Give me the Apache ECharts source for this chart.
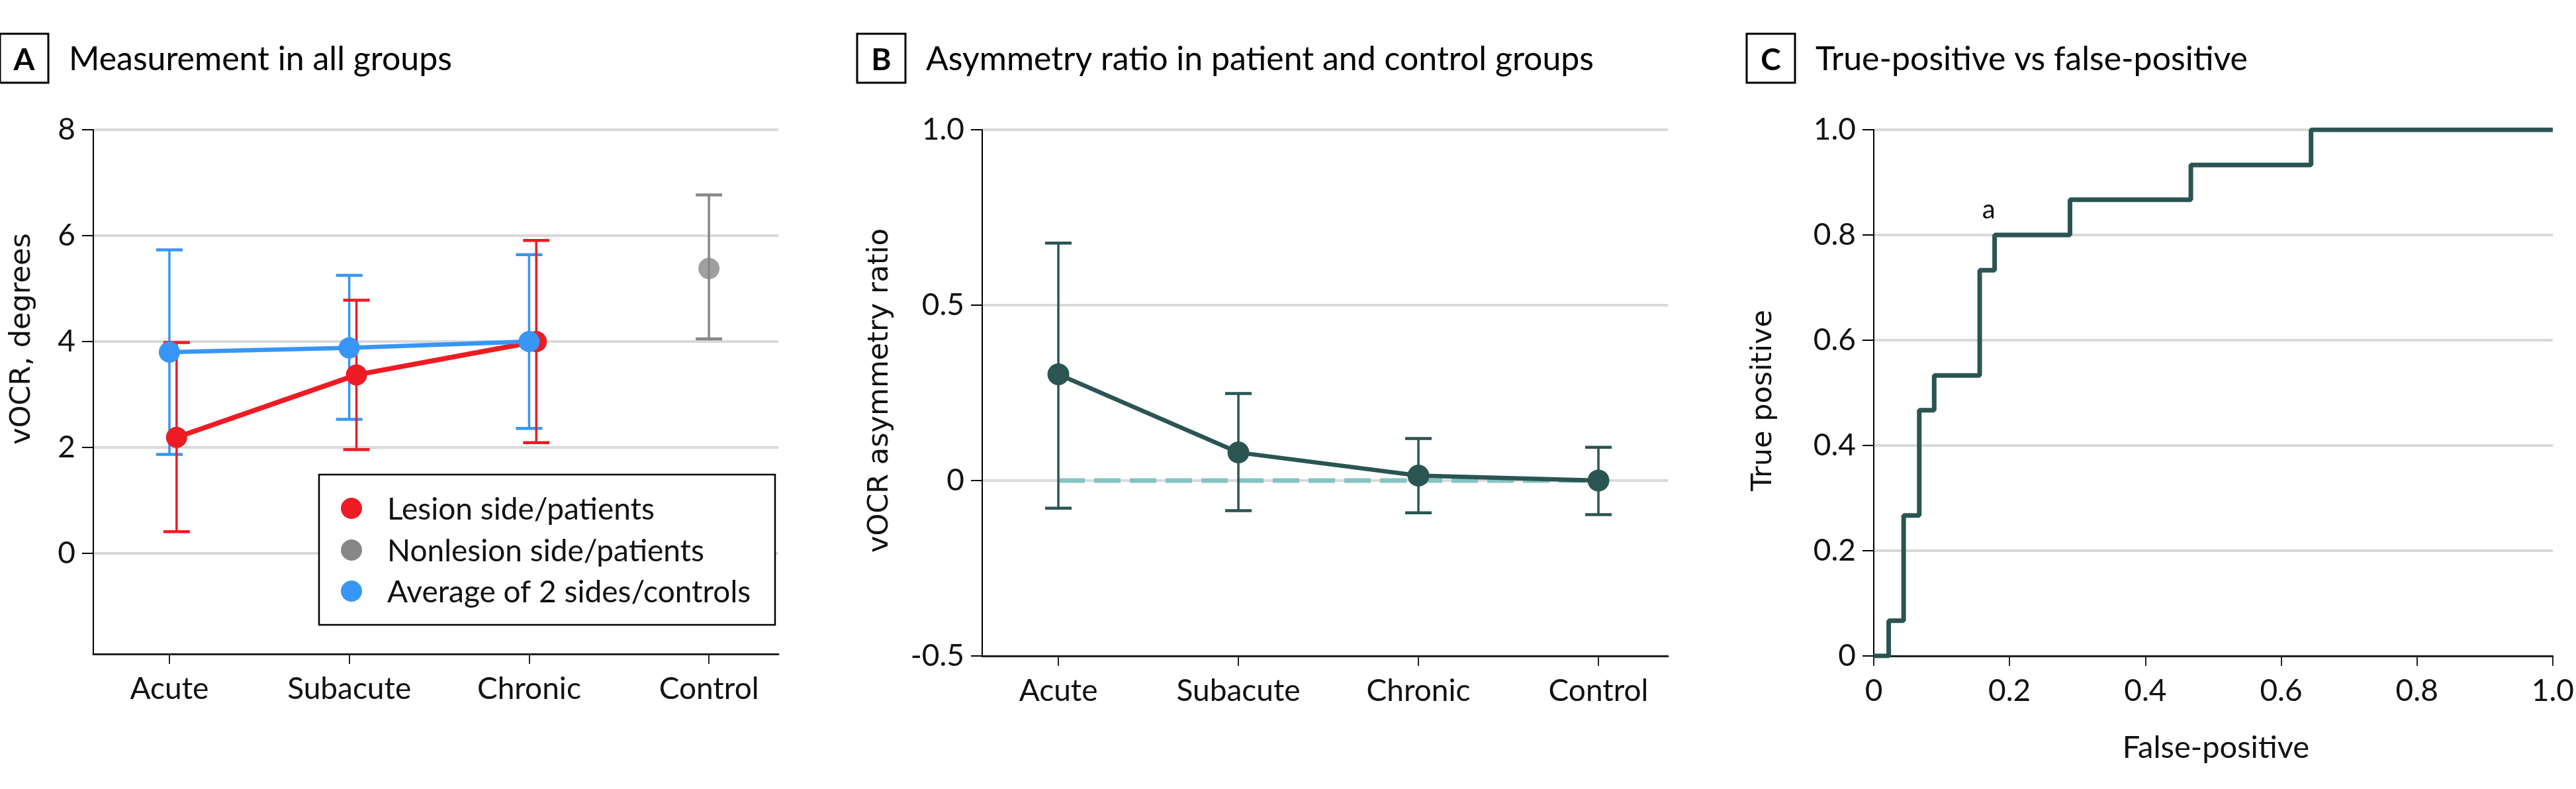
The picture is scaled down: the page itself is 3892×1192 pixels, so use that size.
<!DOCTYPE html>
<html><head><meta charset="utf-8">
<script src="https://cdn.jsdelivr.net/npm/echarts@6/dist/echarts.min.js"></script>
<style>html,body{margin:0;padding:0;background:#fff;}#c{width:3892px;height:1192px;}</style>
</head><body><div id="c"></div>
<script>
// ---------- data ----------
const categories = ['Acute', 'Subacute', 'Chronic', 'Control'];

// Panel A
const lesionGroups = ['Acute', 'Subacute', 'Chronic'];
const lesionMean = [2.19, 3.37, 4.00];
const lesionLow = [0.41, 1.96, 2.09];
const lesionHigh = [3.98, 4.78, 5.91];
const averageGroups = ['Acute', 'Subacute', 'Chronic'];
const averageMean = [3.80, 3.88, 4.00];
const averageLow = [1.87, 2.53, 2.36];
const averageHigh = [5.73, 5.25, 5.64];
const nonlesionGroups = ['Control'];
const nonlesionMean = [5.38];
const nonlesionLow = [4.05];
const nonlesionHigh = [6.77];
const yTicksA = [0, 2, 4, 6, 8];
const legendNames = ['Lesion side/patients', 'Nonlesion side/patients', 'Average of 2 sides/controls'];

// Panel B
const asymGroups = ['Acute', 'Subacute', 'Chronic', 'Control'];
const asymMean = [0.303, 0.080, 0.014, 0.0];
const asymLow = [-0.079, -0.086, -0.092, -0.097];
const asymHigh = [0.677, 0.248, 0.120, 0.095];
const refGroups = ['Acute', 'Control'];
const refValues = [0, 0];

// Panel C
const falsePositive = [0, 0.022, 0.044, 0.067, 0.089, 0.156, 0.178, 0.289, 0.467, 0.644, 1.0];
const truePositive = [0, 0.067, 0.267, 0.467, 0.533, 0.733, 0.800, 0.867, 0.933, 1.0, 1.0];
const annotationPoint = [0.178, 0.8];

// ---------- styling ----------
const RED = '#ED1C24', BLUE = '#3796F6', GRAY = '#878787', TEAL = '#2A5553', LTEAL = '#86C3C0';
const FONT = 'Lato, "Noto Sans", sans-serif';
const AXFONT = '"DejaVu Sans", Verdana, sans-serif';
const lesionOffset = 0.04;
const catX = g => categories.indexOf(g) + 1;

function errorBars(name, xs, lows, highs, color, idx, z) {
  return {
    type: 'custom', name: name, xAxisIndex: idx, yAxisIndex: idx, silent: true, z: z,
    data: xs.map((x, i) => [x, lows[i], highs[i]]),
    encode: { x: 0, y: [1, 2] },
    renderItem: function (params, api) {
      const x = api.value(0);
      const lo = api.coord([x, api.value(1)]);
      const hi = api.coord([x, api.value(2)]);
      const hw = 20;
      return {
        type: 'group', children: [
          { type: 'line', shape: { x1: lo[0], y1: lo[1], x2: hi[0], y2: hi[1] }, style: { stroke: color, lineWidth: 3.5 } },
          { type: 'line', shape: { x1: lo[0] - hw, y1: lo[1], x2: lo[0] + hw, y2: lo[1] }, style: { stroke: color, lineWidth: 4.5 } },
          { type: 'line', shape: { x1: hi[0] - hw, y1: hi[1], x2: hi[0] + hw, y2: hi[1] }, style: { stroke: color, lineWidth: 4.5 } }
        ]
      };
    }
  };
}

const gridLine = { show: true, lineStyle: { color: '#D9D9D9', width: 4 } };
const labelStyle = { fontSize: 46, fontFamily: FONT, color: '#111' };
const fmt1 = v => (Math.abs(v) < 1e-9 ? '0' : v.toFixed(1));

function catXAxis(idx) {
  return {
    gridIndex: idx, type: 'value', min: 0.577, max: 4.386,
    axisLine: { show: true, onZero: false, lineStyle: { color: '#222', width: 3 } },
    axisTick: { show: true, customValues: [1, 2, 3, 4], length: 15, lineStyle: { color: '#222', width: 2 } },
    axisLabel: Object.assign({ customValues: [1, 2, 3, 4], margin: 30, formatter: v => categories[Math.round(v) - 1] }, labelStyle),
    splitLine: { show: false }
  };
}

const lesionX = lesionGroups.map(g => catX(g) + lesionOffset);
const averageX = averageGroups.map(catX);
const nonlesionX = nonlesionGroups.map(catX);
const asymX = asymGroups.map(catX);

function panelHeader(x, letter, title) {
  return [
    { type: 'rect', shape: { x: x, y: 51, width: 73, height: 74 }, style: { fill: '#fff', stroke: '#000', lineWidth: 3 } },
    { type: 'text', style: { text: letter, x: x + 36.5, y: 91, fontSize: 46, fontWeight: 'bold', fontFamily: FONT, fill: '#000', align: 'center', verticalAlign: 'middle' } },
    { type: 'text', style: { text: title, x: x + 104, y: 90, fontSize: 50, fontFamily: FONT, fill: '#000', align: 'left', verticalAlign: 'middle' } }
  ];
}
function yTitle(x, y, text) {
  return { type: 'text', rotation: Math.PI / 2, x: x, y: y, style: { text: text, x: 0, y: 0, fontSize: 43, fontFamily: AXFONT, fill: '#111', align: 'center', verticalAlign: 'middle' } };
}
const legendColors = [RED, GRAY, BLUE];
const legendRows = [768, 831, 893];
const legendGraphics = [
  { type: 'rect', z: 5, shape: { x: 482, y: 717, width: 689, height: 227 }, style: { fill: '#fff', stroke: '#000', lineWidth: 2.5 } }
];
legendNames.forEach((n, i) => {
  legendGraphics.push({ type: 'circle', z: 6, shape: { cx: 531, cy: legendRows[i], r: 16 }, style: { fill: legendColors[i] } });
  legendGraphics.push({ type: 'text', z: 6, style: { text: n, x: 585, y: legendRows[i] + 2, fontSize: 46, fontFamily: FONT, fill: '#111', align: 'left', verticalAlign: 'middle' } });
});

const option = {
  animation: false,
  backgroundColor: '#fff',
  grid: [
    { left: 141, right: 2716, top: 196, bottom: 204 },
    { left: 1484, right: 1372, top: 196, bottom: 201 },
    { left: 2831, right: 27, top: 196, bottom: 201 }
  ],
  xAxis: [
    catXAxis(0),
    catXAxis(1),
    {
      gridIndex: 2, type: 'value', min: 0, max: 1, interval: 0.2,
      axisLine: { show: true, onZero: false, lineStyle: { color: '#222', width: 3 } },
      axisTick: { show: true, length: 15, lineStyle: { color: '#222', width: 2 } },
      axisLabel: Object.assign({ margin: 30, formatter: fmt1 }, labelStyle),
      splitLine: { show: false }
    }
  ],
  yAxis: [
    {
      gridIndex: 0, type: 'value', min: -1.9, max: 8,
      axisLine: { show: true, onZero: false, lineStyle: { color: '#000', width: 2 } },
      axisTick: { show: true, customValues: yTicksA, length: 17, lineStyle: { color: '#000', width: 2 } },
      axisLabel: Object.assign({ customValues: yTicksA, margin: 27 }, labelStyle),
      splitLine: gridLine
    },
    {
      gridIndex: 1, type: 'value', min: -0.5, max: 1.0, interval: 0.5,
      axisLine: { show: true, onZero: false, lineStyle: { color: '#000', width: 2 } },
      axisTick: { show: true, length: 17, lineStyle: { color: '#000', width: 2 } },
      axisLabel: Object.assign({ margin: 27, formatter: fmt1 }, labelStyle),
      splitLine: gridLine
    },
    {
      gridIndex: 2, type: 'value', min: 0, max: 1.0, interval: 0.2,
      axisLine: { show: true, onZero: false, lineStyle: { color: '#000', width: 2 } },
      axisTick: { show: true, length: 17, lineStyle: { color: '#000', width: 2 } },
      axisLabel: Object.assign({ margin: 27, formatter: fmt1 }, labelStyle),
      splitLine: gridLine
    }
  ],
  graphic: [
    ...legendGraphics,
    ...panelHeader(0, 'A', 'Measurement in all groups'),
    ...panelHeader(1295, 'B', 'Asymmetry ratio in patient and control groups'),
    ...panelHeader(2639, 'C', 'True-positive vs false-positive'),
    yTitle(34, 512, 'vOCR, degrees'),
    yTitle(1330, 590, 'vOCR asymmetry ratio'),
    yTitle(2665, 605, 'True positive'),
    { type: 'text', style: { text: 'False-positive', x: 3348, y: 1130, fontSize: 47, fontFamily: FONT, fill: '#111', align: 'center', verticalAlign: 'middle' } }
  ],
  series: [
    errorBars('avgErr', averageX, averageLow, averageHigh, BLUE, 0, 2),
    errorBars('lesErr', lesionX, lesionLow, lesionHigh, RED, 0, 2),
    errorBars('nonErr', nonlesionX, nonlesionLow, nonlesionHigh, GRAY, 0, 2),
    {
      name: legendNames[0], type: 'line', xAxisIndex: 0, yAxisIndex: 0, z: 3,
      data: lesionX.map((x, i) => [x, lesionMean[i]]),
      symbol: 'circle', symbolSize: 32, showSymbol: true,
      itemStyle: { color: RED }, lineStyle: { color: RED, width: 7.5 }
    },
    {
      name: legendNames[1], type: 'scatter', xAxisIndex: 0, yAxisIndex: 0, z: 3,
      data: nonlesionX.map((x, i) => [x, nonlesionMean[i]]),
      symbol: 'circle', symbolSize: 32, itemStyle: { color: GRAY }
    },
    {
      name: legendNames[2], type: 'line', xAxisIndex: 0, yAxisIndex: 0, z: 4,
      data: averageX.map((x, i) => [x, averageMean[i]]),
      symbol: 'circle', symbolSize: 32, showSymbol: true,
      itemStyle: { color: BLUE }, lineStyle: { color: BLUE, width: 6.5 }
    },
    // Panel B
    {
      name: 'ref', type: 'line', xAxisIndex: 1, yAxisIndex: 1, z: 2, silent: true,
      data: refGroups.map((g, i) => [catX(g), refValues[i]]),
      showSymbol: false, lineStyle: { color: LTEAL, width: 7, type: [40, 14] }
    },
    errorBars('asymErr', asymX, asymLow, asymHigh, TEAL, 1, 3),
    {
      name: 'asym', type: 'line', xAxisIndex: 1, yAxisIndex: 1, z: 4,
      data: asymX.map((x, i) => [x, asymMean[i]]),
      symbol: 'circle', symbolSize: 33, showSymbol: true,
      itemStyle: { color: TEAL }, lineStyle: { color: TEAL, width: 6.5 }
    },
    // Panel C
    {
      name: 'roc', type: 'line', xAxisIndex: 2, yAxisIndex: 2, z: 4, step: 'end',
      data: falsePositive.map((x, i) => [x, truePositive[i]]),
      showSymbol: false, lineStyle: { color: TEAL, width: 7 },
      markPoint: {
        symbol: 'circle', symbolSize: 1, itemStyle: { color: 'rgba(0,0,0,0)' }, silent: true,
        data: [{ coord: annotationPoint, label: { show: true, formatter: 'a', offset: [-9, -38], fontSize: 40, fontFamily: FONT, color: '#111' } }]
      }
    }
  ]
};

const chart = echarts.init(document.getElementById('c'), null, { renderer: 'canvas' });
chart.setOption(option);
</script>
</body></html>
